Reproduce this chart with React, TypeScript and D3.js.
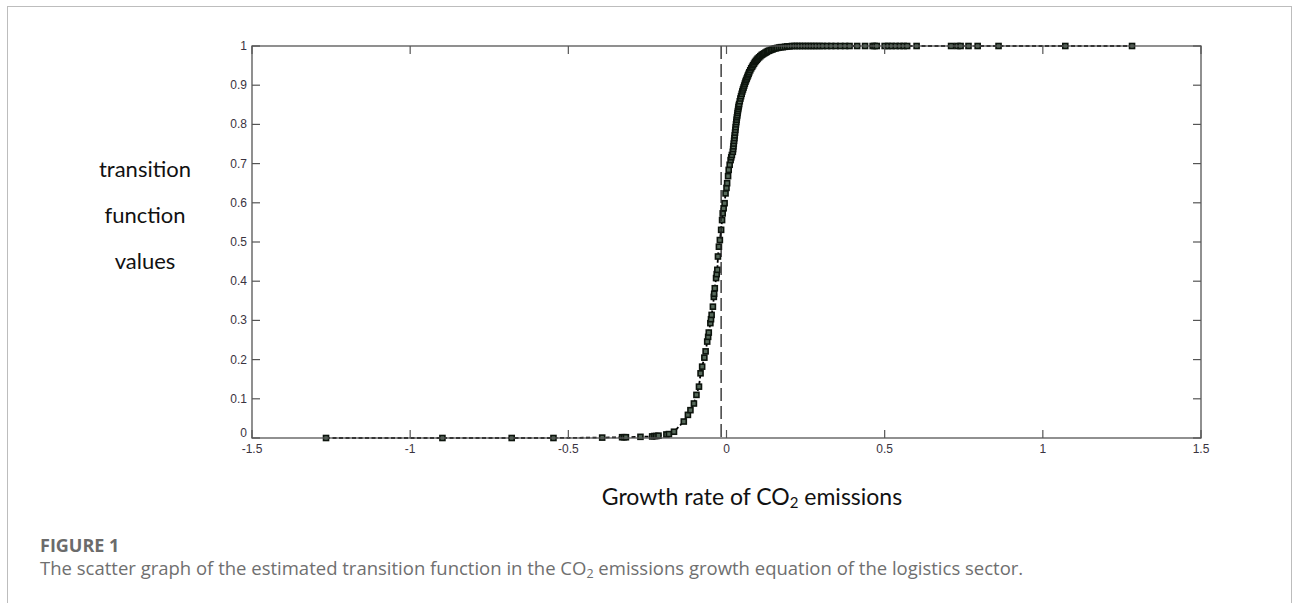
import React from 'react';
import * as d3 from 'd3';

// growth rate of CO2 emissions (x) and estimated transition function values (y)
const growthRate = [
  -1.266, -0.898, -0.679, -0.547, -0.393, -0.33, -0.324, -0.318, -0.272, -0.235, -0.228, -0.222,
  -0.215, -0.19, -0.182, -0.166,
  -0.135, -0.122, -0.114, -0.103, -0.095, -0.087, -0.082, -0.077, -0.07, -0.066, -0.061, -0.058,
  -0.056, -0.051, -0.049, -0.047, -0.043, -0.04, -0.039, -0.037, -0.033, -0.031, -0.029, -0.027,
  -0.024, -0.021, -0.017, -0.014, -0.012, -0.009, -0.006, -0.003, 0.0, 0.002, 0.005, 0.007, 0.01,
  0.013, 0.015, 0.017, 0.02,
  0.021, 0.022, 0.023, 0.024, 0.025, 0.026, 0.027, 0.028, 0.029, 0.03, 0.031, 0.032, 0.033, 0.034,
  0.035, 0.036, 0.037, 0.038, 0.039, 0.04, 0.042, 0.044, 0.046, 0.048, 0.05, 0.052, 0.054, 0.056,
  0.058, 0.06, 0.062, 0.064, 0.066, 0.068, 0.07, 0.072, 0.075, 0.078, 0.081, 0.084, 0.087, 0.09,
  0.093, 0.096, 0.099, 0.103, 0.107, 0.111, 0.115, 0.119, 0.123, 0.127, 0.131, 0.135, 0.14, 0.145,
  0.15, 0.155, 0.16, 0.166, 0.172, 0.178, 0.185, 0.192, 0.199, 0.207, 0.215, 0.223, 0.231, 0.24,
  0.249, 0.258, 0.267, 0.276, 0.285, 0.295, 0.305,
  0.318, 0.331, 0.345, 0.36, 0.375, 0.389, 0.413, 0.438, 0.462, 0.468, 0.475, 0.5, 0.511, 0.522,
  0.535, 0.548, 0.56, 0.571, 0.601, 0.71, 0.73, 0.74, 0.765, 0.794, 0.86, 1.071, 1.282,
];

const transitionValue = [
  0.0, 0.0, 0.0, 0.0, 0.001, 0.002, 0.002, 0.002, 0.003, 0.004, 0.005, 0.005,
  0.006, 0.009, 0.01, 0.016,
  0.042, 0.059, 0.071, 0.088, 0.11, 0.131, 0.165, 0.182, 0.205, 0.221, 0.246, 0.258,
  0.269, 0.293, 0.303, 0.314, 0.335, 0.36, 0.368, 0.382, 0.408, 0.418, 0.429, 0.463,
  0.488, 0.505, 0.531, 0.556, 0.573, 0.586, 0.599, 0.624, 0.638, 0.65, 0.668, 0.684, 0.697,
  0.709, 0.716, 0.722, 0.73,
  0.737, 0.744, 0.751, 0.758, 0.765, 0.772, 0.779, 0.786, 0.793, 0.8, 0.806, 0.812, 0.818, 0.823,
  0.829, 0.834, 0.839, 0.844, 0.848, 0.852, 0.859, 0.866, 0.872, 0.878, 0.884, 0.889, 0.894, 0.899,
  0.904, 0.909, 0.913, 0.917, 0.921, 0.925, 0.929, 0.933, 0.938, 0.943, 0.947, 0.951, 0.955, 0.959,
  0.962, 0.965, 0.968, 0.971, 0.974, 0.977, 0.979, 0.981, 0.983, 0.985, 0.987, 0.988, 0.99, 0.991,
  0.993, 0.994, 0.995, 0.996, 0.997, 0.997, 0.998, 0.999, 0.999, 1.0, 1.0, 1.0, 1.0, 1.0,
  1.0, 1.0, 1.0, 1.0, 1.0, 1.0, 1.0,
  1.0, 1.0, 1.0, 1.0, 1.0, 1.0, 1.0, 1.0, 1.0, 1.0, 1.0, 1.0, 1.0, 1.0,
  1.0, 1.0, 1.0, 1.0, 1.0, 1.0, 1.0, 1.0, 1.0, 1.0, 1.0, 1.0, 1.0,
];

// estimated threshold (dashed vertical line)
const threshold = -0.017;

const xTicks = [-1.5, -1, -0.5, 0, 0.5, 1, 1.5];
const yTicks = [0, 0.1, 0.2, 0.3, 0.4, 0.5, 0.6, 0.7, 0.8, 0.9, 1];

const yLabelLines = ['transition', 'function', 'values'];
const captionTitle = 'FIGURE 1';

const W = 1293;
const H = 603;
const plot = { left: 252, right: 1201, top: 46, bottom: 438 };

const App = () => {
  const x = d3.scaleLinear().domain([-1.5, 1.5]).range([plot.left, plot.right]);
  const y = d3.scaleLinear().domain([0, 1]).range([plot.bottom, plot.top]);

  const points = growthRate.map((g, i) => ({ g, v: transitionValue[i] }));
  const line = d3
    .line<{ g: number; v: number }>()
    .x((d) => x(d.g))
    .y((d) => y(d.v));

  const tickFont = '"Liberation Sans", Arial, sans-serif';
  const axisColor = '#555';
  const tickLen = 8;
  const m = 5; // marker size

  return (
    <div style={{ position: 'absolute', left: 0, top: 0 }}>
      <svg width={W} height={H} style={{ display: 'block', background: '#fff' }}>
        {/* outer frame */}
        <rect x={7.5} y={6.5} width={1284} height={620} fill="none" stroke="#bdbdbd" strokeWidth={1} />

        {/* fitted line and markers */}
        <path
          d={line(points) || ''}
          fill="none"
          stroke="#000"
          strokeWidth={1.8}
          strokeDasharray="4 2.5"
        />
        {points.map((d, i) => (
          <rect
            key={i}
            x={x(d.g) - m / 2}
            y={y(d.v) - m / 2}
            width={m}
            height={m}
            fill="#56695a"
            stroke="#0d140d"
            strokeWidth={1.6}
          />
        ))}

        {/* threshold line */}
        <line
          x1={x(threshold)}
          x2={x(threshold)}
          y1={plot.top}
          y2={plot.bottom}
          stroke="#222"
          strokeWidth={1.3}
          strokeDasharray="13 5"
        />

        {/* axes box */}
        <rect
          x={plot.left}
          y={plot.top}
          width={plot.right - plot.left}
          height={plot.bottom - plot.top}
          fill="none"
          stroke={axisColor}
          strokeWidth={1.3}
        />

        {/* x ticks */}
        {xTicks.map((t) => (
          <g key={'x' + t}>
            <line x1={x(t)} x2={x(t)} y1={plot.bottom} y2={plot.bottom - tickLen} stroke={axisColor} strokeWidth={1.2} />
            <line x1={x(t)} x2={x(t)} y1={plot.top} y2={plot.top + tickLen} stroke={axisColor} strokeWidth={1.2} />
            <text
              x={x(t)}
              y={plot.bottom + 15}
              textAnchor="middle"
              fontFamily={tickFont}
              fontSize={12}
              fill="#3a3340"
            >
              {t}
            </text>
          </g>
        ))}

        {/* y ticks */}
        {yTicks.map((t) => (
          <g key={'y' + t}>
            <line x1={plot.left} x2={plot.left + tickLen} y1={y(t)} y2={y(t)} stroke={axisColor} strokeWidth={1.2} />
            <line x1={plot.right} x2={plot.right - tickLen} y1={y(t)} y2={y(t)} stroke={axisColor} strokeWidth={1.2} />
            <text
              x={plot.left - 5}
              y={y(t) + (t === 0 ? -1 : 4)}
              textAnchor="end"
              fontFamily={tickFont}
              fontSize={12}
              fill="#3a3340"
            >
              {t}
            </text>
          </g>
        ))}

        {/* y axis title */}
        {yLabelLines.map((s, i) => (
          <text
            key={s}
            x={145}
            y={177 + i * 46}
            textAnchor="middle"
            fontFamily="Lato, sans-serif"
            fontSize={22}
            fill="#111"
          >
            {s}
          </text>
        ))}

        {/* x axis title */}
        <text x={752} y={505} textAnchor="middle" fontFamily="Lato, sans-serif" fontSize={23} fill="#111">
          Growth rate of CO
          <tspan fontSize={15} dy={3}>2</tspan>
          <tspan dy={-3}> emissions</tspan>
        </text>

        {/* caption */}
        <text x={40} y={552} fontFamily='"Open Sans", sans-serif' fontSize={18} fontWeight={700} fill="#6b6b6b">
          {captionTitle}
        </text>
        <text x={40} y={575} fontFamily='"Open Sans", sans-serif' fontSize={18.5} fill="#6f6f6f">
          The scatter graph of the estimated transition function in the CO
          <tspan fontSize={12.5} dy={3}>2</tspan>
          <tspan dy={-3}> emissions growth equation of the logistics sector.</tspan>
        </text>
      </svg>
    </div>
  );
};

export default App;
